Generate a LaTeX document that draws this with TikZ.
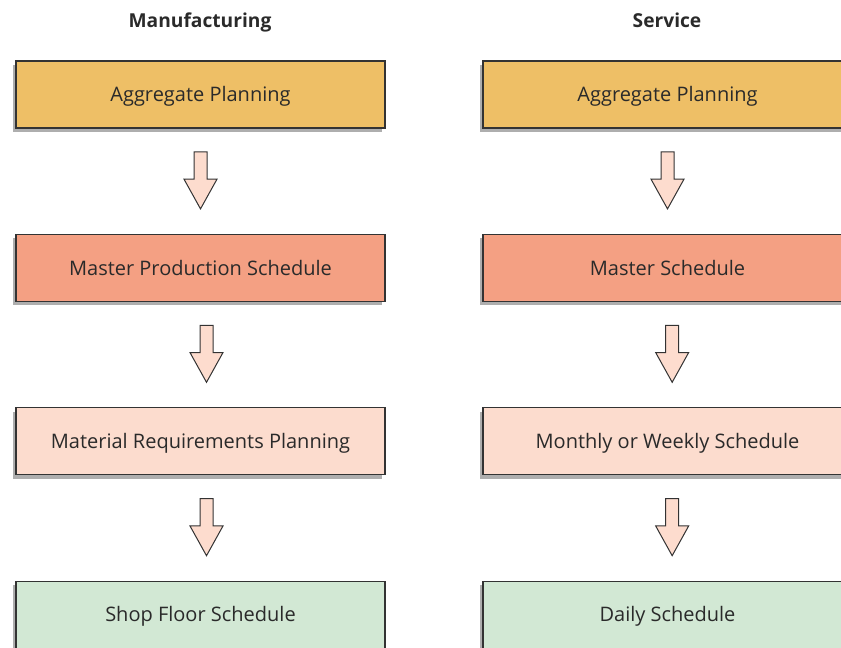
\documentclass[tikz,border=0pt]{standalone}
\usepackage{fontspec}
\setmainfont{Open Sans}
\usetikzlibrary{positioning,calc,shapes.arrows,shadows}
\definecolor{aggfill}{HTML}{EEBF66}
\definecolor{mstfill}{HTML}{F4A083}
\definecolor{midfill}{HTML}{FCDCCE}
\definecolor{flrfill}{HTML}{D2E8D4}
\definecolor{arwfill}{HTML}{FDDCCE}
\definecolor{txtcol}{HTML}{2A2A2A}

\begin{document}
\begin{tikzpicture}[x=0.75pt,y=-0.75pt,node distance=78.8pt,font=\fontsize{15pt}{18pt}\selectfont,text=txtcol]
  \tikzstyle{box}=[draw=black!80,line width=1pt,minimum width=276.75pt,minimum height=50.25pt,align=center,
    text height=10.7pt,text depth=0pt,
    drop shadow={shadow xshift=-2.5pt,shadow yshift=-3pt,fill=black!45,opacity=0.7}]
  \tikzstyle{arw}=[draw=black!80,line width=0.75pt,fill=arwfill,single arrow,shape border rotate=270,yshift=5pt,
    minimum height=42.75pt,minimum width=0pt,single arrow head extend=7.5pt,single arrow tip angle=58,inner sep=4.5pt]
  \tikzstyle{title}=[font=\fontsize{14.4pt}{17pt}\selectfont\bfseries,anchor=base]
  \clip (0,0) rectangle (841,648);
  % manufacturing column
  \node[title] (mtitle) at (200,27.3) {Manufacturing};
  \node[box,fill=aggfill] (magg) at (200.5,94.5) {Aggregate Planning};
  \node[box,fill=mstfill,below=of magg] (mmps) {Master Production Schedule};
  \node[box,fill=midfill,below=of mmps] (mmrp) {Material Requirements Planning};
  \node[box,fill=flrfill,below=of mmrp] (mflr) {Shop Floor Schedule};
  \node[arw] (ma1) at ($(magg)!0.5!(mmps)$) {};
  \node[arw,xshift=4.5pt] (ma2) at ($(mmps)!0.5!(mmrp)$) {};
  \node[arw,xshift=4.5pt] (ma3) at ($(mmrp)!0.5!(mflr)$) {};
  % service column
  \node[title] (stitle) at (667,27.3) {Service};
  \node[box,fill=aggfill] (sagg) at (667.5,94.5) {Aggregate Planning};
  \node[box,fill=mstfill,below=of sagg] (smst) {Master Schedule};
  \node[box,fill=midfill,below=of smst] (smon) {Monthly or Weekly Schedule};
  \node[box,fill=flrfill,below=of smon] (sday) {Daily Schedule};
  \node[arw] (sa1) at ($(sagg)!0.5!(smst)$) {};
  \node[arw,xshift=3.5pt] (sa2) at ($(smst)!0.5!(smon)$) {};
  \node[arw,xshift=3.5pt] (sa3) at ($(smon)!0.5!(sday)$) {};
\end{tikzpicture}
\end{document}
